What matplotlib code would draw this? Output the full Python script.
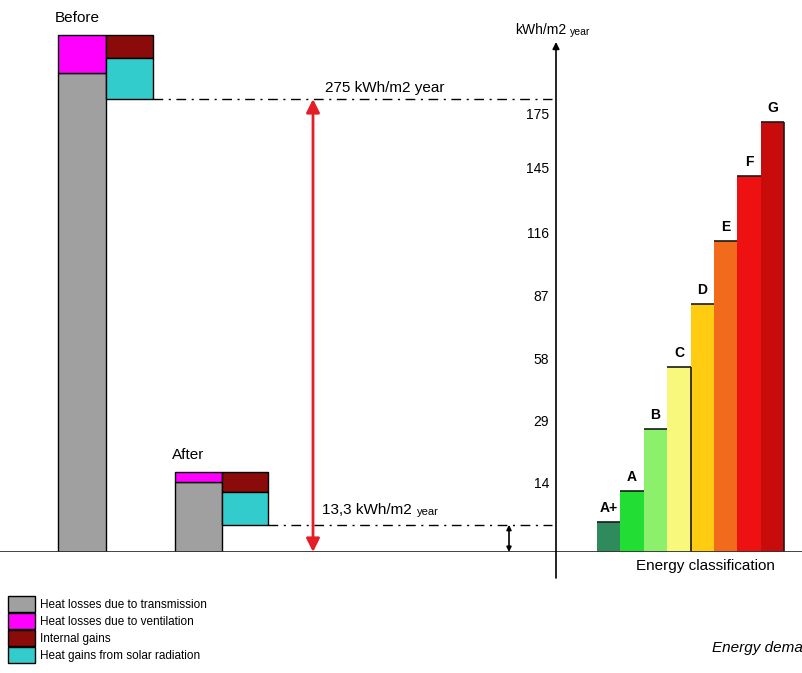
import numpy as np
import matplotlib
matplotlib.use("Agg")
import matplotlib.pyplot as plt
from matplotlib.transforms import ScaledTranslation

plt.rcParams['font.family'] = ['Liberation Sans', 'DejaVu Sans']

# heat balance (schematic units, kWh/m2 year)
stages = ['Before', 'After']
transmission = [291, 42.5]
ventilation = [23, 6]
internal_gains = [14, 12]
solar_gains = [25, 20]
net_labels = ['275 kWh/m2 year', '13,3 kWh/m2']

# energy classification
classes = ['A+', 'A', 'B', 'C', 'D', 'E', 'F', 'G']
class_limits = [7, 14, 29, 58, 87, 116, 145, 175]
class_colors = ['#2f8a5c', '#22dd33', '#8cf06c', '#f8f87c', '#ffcc11', '#f26b1d', '#ee1111', '#c80c0c']
axis_ticks = [14, 29, 58, 87, 116, 145, 175]

legend_labels = ['Heat losses due to transmission', 'Heat losses due to ventilation',
                 'Internal gains', 'Heat gains from solar radiation']
heat_colors = ['#a0a0a0', '#ff00ff', '#8b0a0a', '#33cccc']

W, H = 802, 673
fig = plt.figure(figsize=(W / 100, H / 100), dpi=100)


def px_axes(x0, y0, x1, y1):
    return fig.add_axes([x0 / W, 1 - y1 / H, (x1 - x0) / W, (y1 - y0) / H])


def ftext(x, y, s, **kw):
    return fig.text(x / W, 1 - y / H, s, **kw)


# ---- left: heat balance ----
px_per_unit = 453 / 275
left = px_axes(0, 0, 556, 552)
left.set_xlim(0, 556)
left.set_ylim(0, 552 / px_per_unit)
left.axis('off')

loss_x = [58, 175]
loss_w = [48, 47]
gain_w = [47, 46]
handles = None
for i in range(2):
    gx = loss_x[i] + loss_w[i]
    losses = transmission[i] + ventilation[i]
    net = losses - internal_gains[i] - solar_gains[i]
    lab = legend_labels if i == 0 else [None] * 4
    b1 = left.bar(loss_x[i], transmission[i], width=loss_w[i], align='edge',
                  color=heat_colors[0], edgecolor='black', lw=1, label=lab[0])
    b2 = left.bar(loss_x[i], ventilation[i], bottom=transmission[i], width=loss_w[i], align='edge',
                  color=heat_colors[1], edgecolor='black', lw=1, label=lab[1])
    b3 = left.bar(gx, internal_gains[i], bottom=losses - internal_gains[i], width=gain_w[i], align='edge',
                  color=heat_colors[2], edgecolor='black', lw=1, label=lab[2])
    b4 = left.bar(gx, solar_gains[i], bottom=net, width=gain_w[i], align='edge',
                  color=heat_colors[3], edgecolor='black', lw=1, label=lab[3])
    if i == 0:
        handles = [b1, b2, b3, b4]
    left.hlines(net, gx + gain_w[i], 552, colors='black', lw=1, linestyles=(0, (7, 4, 1.5, 4)))
    left.text(loss_x[i] - 3, losses, stages[i], fontsize=11, va='bottom', ha='left',
              transform=left.transData + ScaledTranslation(0, 7 / 72, fig.dpi_scale_trans))

before_net = transmission[0] + ventilation[0] - internal_gains[0] - solar_gains[0]
after_net = transmission[1] + ventilation[1] - internal_gains[1] - solar_gains[1]
left.annotate('', xy=(313, 0), xytext=(313, before_net),
              arrowprops=dict(arrowstyle='<|-|>', color='#e41e26', lw=2,
                              mutation_scale=20, shrinkA=0, shrinkB=0))
left.annotate('', xy=(509, 0), xytext=(509, after_net),
              arrowprops=dict(arrowstyle='<|-|>', color='black', lw=1.2,
                              mutation_scale=7, shrinkA=0, shrinkB=0))
left.axhline(0, color='#333333', lw=1.3)

ftext(325, 88, net_labels[0], fontsize=11, va='center')
ftext(322, 510, net_labels[1], fontsize=11, va='center')
ftext(417, 512, 'year', fontsize=8, va='center')

# ---- right: classification ----
scale_vals = [0, 14, 29, 58, 87, 116, 145, 175, 243]
scale_px = [0, 61, 123, 185, 248, 311, 376, 430, 552]
right = px_axes(556, 0, 802, 552)
right.set_yscale('function', functions=(lambda v: np.interp(v, scale_vals, scale_px),
                                        lambda p: np.interp(p, scale_px, scale_vals)))
right.set_ylim(0, 243)
right.set_xlim(-1.75, 8.76)
xs = np.arange(len(classes))
right.bar(xs, class_limits, width=1, align='edge', color=class_colors, edgecolor='none')
right.hlines(class_limits, xs, xs + 1, colors='#1a1a1a', lw=1.2)
right.vlines([4, 8], 0, [class_limits[3], class_limits[7]], colors='#1a1a1a', lw=1.2)
for x, v, c in zip(xs, class_limits, classes):
    right.annotate(c, (x + 0.5, v), xytext=(0, 5), textcoords='offset points',
                   ha='center', va='bottom', fontsize=10, fontweight='bold')
right.axhline(0, color='#333333', lw=1.3)
for s in right.spines.values():
    s.set_visible(False)
right.set_xticks([])
right.set_yticks(axis_ticks)
right.set_yticklabels([str(t) for t in axis_ticks], fontsize=10)
right.tick_params(axis='y', length=0, pad=5)
for lbl in right.get_yticklabels():
    lbl.set_transform(lbl.get_transform() + ScaledTranslation(0, 6 / 72, fig.dpi_scale_trans))
right.annotate('', xy=(0, (552 - 42) / 552), xytext=(0, -26 / 552),
               xycoords='axes fraction', textcoords='axes fraction',
               arrowprops=dict(arrowstyle='-|>', color='black', lw=1.2,
                               mutation_scale=10, shrinkA=0, shrinkB=0))
right.patch.set_alpha(0)

ftext(515, 30, 'kWh/m2', fontsize=10, va='center')
ftext(570, 32, 'year', fontsize=7.5, va='center')
ftext(636, 566, 'Energy classification', fontsize=11, va='center')
ftext(712, 648, 'Energy dema', fontsize=11, style='italic', va='center')

fig.legend(handles=handles, labels=legend_labels, loc='upper left',
           bbox_to_anchor=(8 / W, 1 - 596 / H), frameon=False,
           prop={'size': 8.5}, handlelength=2.3, handleheight=1.7, labelspacing=0.1,
           handletextpad=0.4, borderpad=0, borderaxespad=0)

fig.savefig('out.png', dpi=100)
